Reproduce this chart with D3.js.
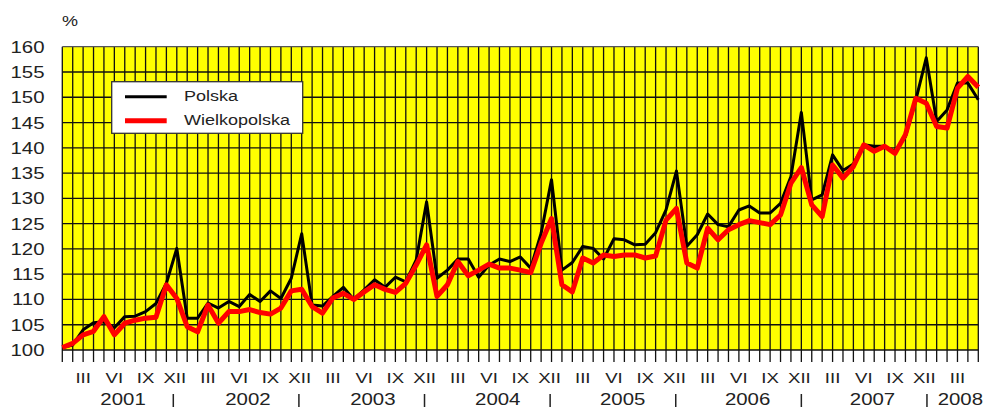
<!DOCTYPE html>
<html>
<head>
<meta charset="utf-8">
<script src="https://cdn.jsdelivr.net/npm/d3@7"></script>
<style>
  body { margin: 0; background: #fff; }
  text { font-family: "Liberation Sans", Arial, sans-serif; fill: #222; }
</style>
</head>
<body>
<div id="chart"></div>
<script>
// monthly values, I 2001 .. V 2008
var polska = [
  100.5, 101, 104, 105.4, 105.6, 104.4, 106.6, 106.7, 107.6, 109.2, 113.2, 120.1,
  106.3, 106.3, 109.3, 108.3, 109.6, 108.6, 111, 109.6, 111.7, 110.2, 114.2, 123,
  108.9, 108.7, 110.6, 112.4, 110, 111.9, 113.9, 112.4, 114.4, 113.5, 117.8, 129.3,
  114.2, 115.8, 118, 118, 114.4, 116.8, 118, 117.5, 118.4, 116.2, 123.1, 133.7,
  115.8, 117.3, 120.5, 120.1, 118, 122, 121.8, 120.8, 120.9, 123.2, 127.7, 135.4,
  120.5, 122.8, 126.9, 124.8, 124.4, 127.7, 128.5, 127.1, 127.1, 129, 134.3, 147,
  129.7, 130.7, 138.6, 135.5, 136.8, 140.6, 140.3, 140.3, 139.3, 142.2, 149.5, 157.8,
  145.2, 147.5, 152.8, 152.8, 149.5
];
var wielkopolska = [
  100.5, 101.3, 103, 103.7, 106.6, 103, 105.3, 105.9, 106.3, 106.5, 112.9, 110.2,
  104.6, 103.6, 108.9, 105.3, 107.6, 107.6, 108, 107.4, 107.1, 108.3, 111.7, 112,
  108.6, 107.3, 110.3, 111.2, 110, 111.5, 112.9, 112, 111.4, 113.2, 116.8, 120.8,
  110.6, 112.9, 117.5, 114.7, 115.8, 117, 116.2, 116.2, 115.8, 115.3, 121.1, 126,
  112.9, 111.5, 118.2, 117.2, 118.8, 118.5, 118.8, 118.8, 118.2, 118.6, 125.7, 128,
  117.2, 116.2, 124.1, 121.8, 123.8, 124.8, 125.6, 125.2, 124.8, 126.7, 133, 136.1,
  128.7, 126.4, 136.6, 134, 136.3, 140.6, 139.3, 140.3, 138.9, 142.6, 149.8, 148.8,
  144.2, 143.9, 151.8, 154.1, 152
];
var monthLabels = ["III", "VI", "IX", "XII"];
var years = ["2001", "2002", "2003", "2004", "2005", "2006", "2007", "2008"];
var yTicks = d3.range(100, 161, 5);
var seriesNames = ["Polska", "Wielkopolska"];

var W = 985, H = 408;
var pLeft = 62.3, pRight = 978.3, pTop = 46.7, pBottom = 350;
var sx = 1.2; // stretched type like the original

var svg = d3.select("#chart").append("svg")
    .attr("width", W)
    .attr("height", H);

var x = d3.scaleLinear()
    .domain([0, polska.length - 1])
    .range([pLeft, pRight]);

var y = d3.scaleLinear()
    .domain([100, 160])
    .range([pBottom, pTop]);

function label(txt, px, py, size, anchor) {
  return svg.append("text")
      .attr("transform", "translate(" + px + "," + py + ") scale(" + sx + ",1)")
      .attr("text-anchor", anchor)
      .attr("font-size", size)
      .text(txt);
}

// plot area
svg.append("rect")
    .attr("x", pLeft)
    .attr("y", pTop)
    .attr("width", pRight - pLeft)
    .attr("height", pBottom - pTop)
    .attr("fill", "#ffff00");

// grid
svg.append("g")
  .selectAll("line")
  .data(d3.range(polska.length))
  .join("line")
    .attr("x1", function(d) { return x(d); })
    .attr("x2", function(d) { return x(d); })
    .attr("y1", pTop)
    .attr("y2", pBottom + 12)
    .attr("stroke", "#111")
    .attr("stroke-width", 1.3);

svg.append("g")
  .selectAll("line")
  .data(yTicks)
  .join("line")
    .attr("x1", pLeft)
    .attr("x2", pRight)
    .attr("y1", function(d) { return y(d); })
    .attr("y2", function(d) { return y(d); })
    .attr("stroke", function(d) { return d == 160 ? "#555" : "#111"; })
    .attr("stroke-width", 1.3);

// y labels
yTicks.forEach(function(v) {
  label(v, 44.5, y(v) + 6, 17, "end");
});
label("%", 62, 26, 15, "start");

// month labels
for (var k = 0; k < years.length; k++) {
  for (var m = 0; m < monthLabels.length; m++) {
    var idx = k * 12 + 2 + m * 3;
    if (idx >= polska.length) continue;
    label(monthLabels[m], x(idx) - (m == 3 ? 2 : 0), 382.7, 15.5, "middle");
  }
}

// years and separators
for (var k = 0; k < years.length; k++) {
  if (k < years.length - 1) {
    var sepX = x(11 + 12 * k) - 3.5 + k * 0.7;
    svg.append("line")
        .attr("x1", sepX).attr("x2", sepX)
        .attr("y1", 394).attr("y2", 407)
        .attr("stroke", "#222")
        .attr("stroke-width", 1.5);
    label(years[k], x(5.5 + 12 * k) + 3.5, 405, 17, "middle");
  } else {
    label(years[k], x(12 * k) + 1, 405, 17, "start");
  }
}

// lines
var line = d3.line()
    .x(function(d, i) { return x(i); })
    .y(function(d) { return y(d); });

svg.append("path")
    .datum(polska)
    .attr("fill", "none")
    .attr("stroke", "#000")
    .attr("stroke-width", 3)
    .attr("stroke-linejoin", "round")
    .attr("d", line);

svg.append("path")
    .datum(wielkopolska)
    .attr("fill", "none")
    .attr("stroke", "#ff0000")
    .attr("stroke-width", 5)
    .attr("stroke-linejoin", "round")
    .attr("d", line);

// legend
svg.append("rect")
    .attr("x", 111.7)
    .attr("y", 81.7)
    .attr("width", 191)
    .attr("height", 51.6)
    .attr("fill", "#fff")
    .attr("stroke", "#333")
    .attr("stroke-width", 1.3);

var legColors = ["#000", "#ff0000"];
var legWidths = [3, 5];
seriesNames.forEach(function(name, i) {
  var ly = 96.7 + i * 24;
  svg.append("line")
      .attr("x1", 125).attr("x2", 166.7)
      .attr("y1", ly).attr("y2", ly)
      .attr("stroke", legColors[i])
      .attr("stroke-width", legWidths[i]);
  label(name, 184, ly + 4.5, 15, "start");
});
</script>
</body>
</html>
